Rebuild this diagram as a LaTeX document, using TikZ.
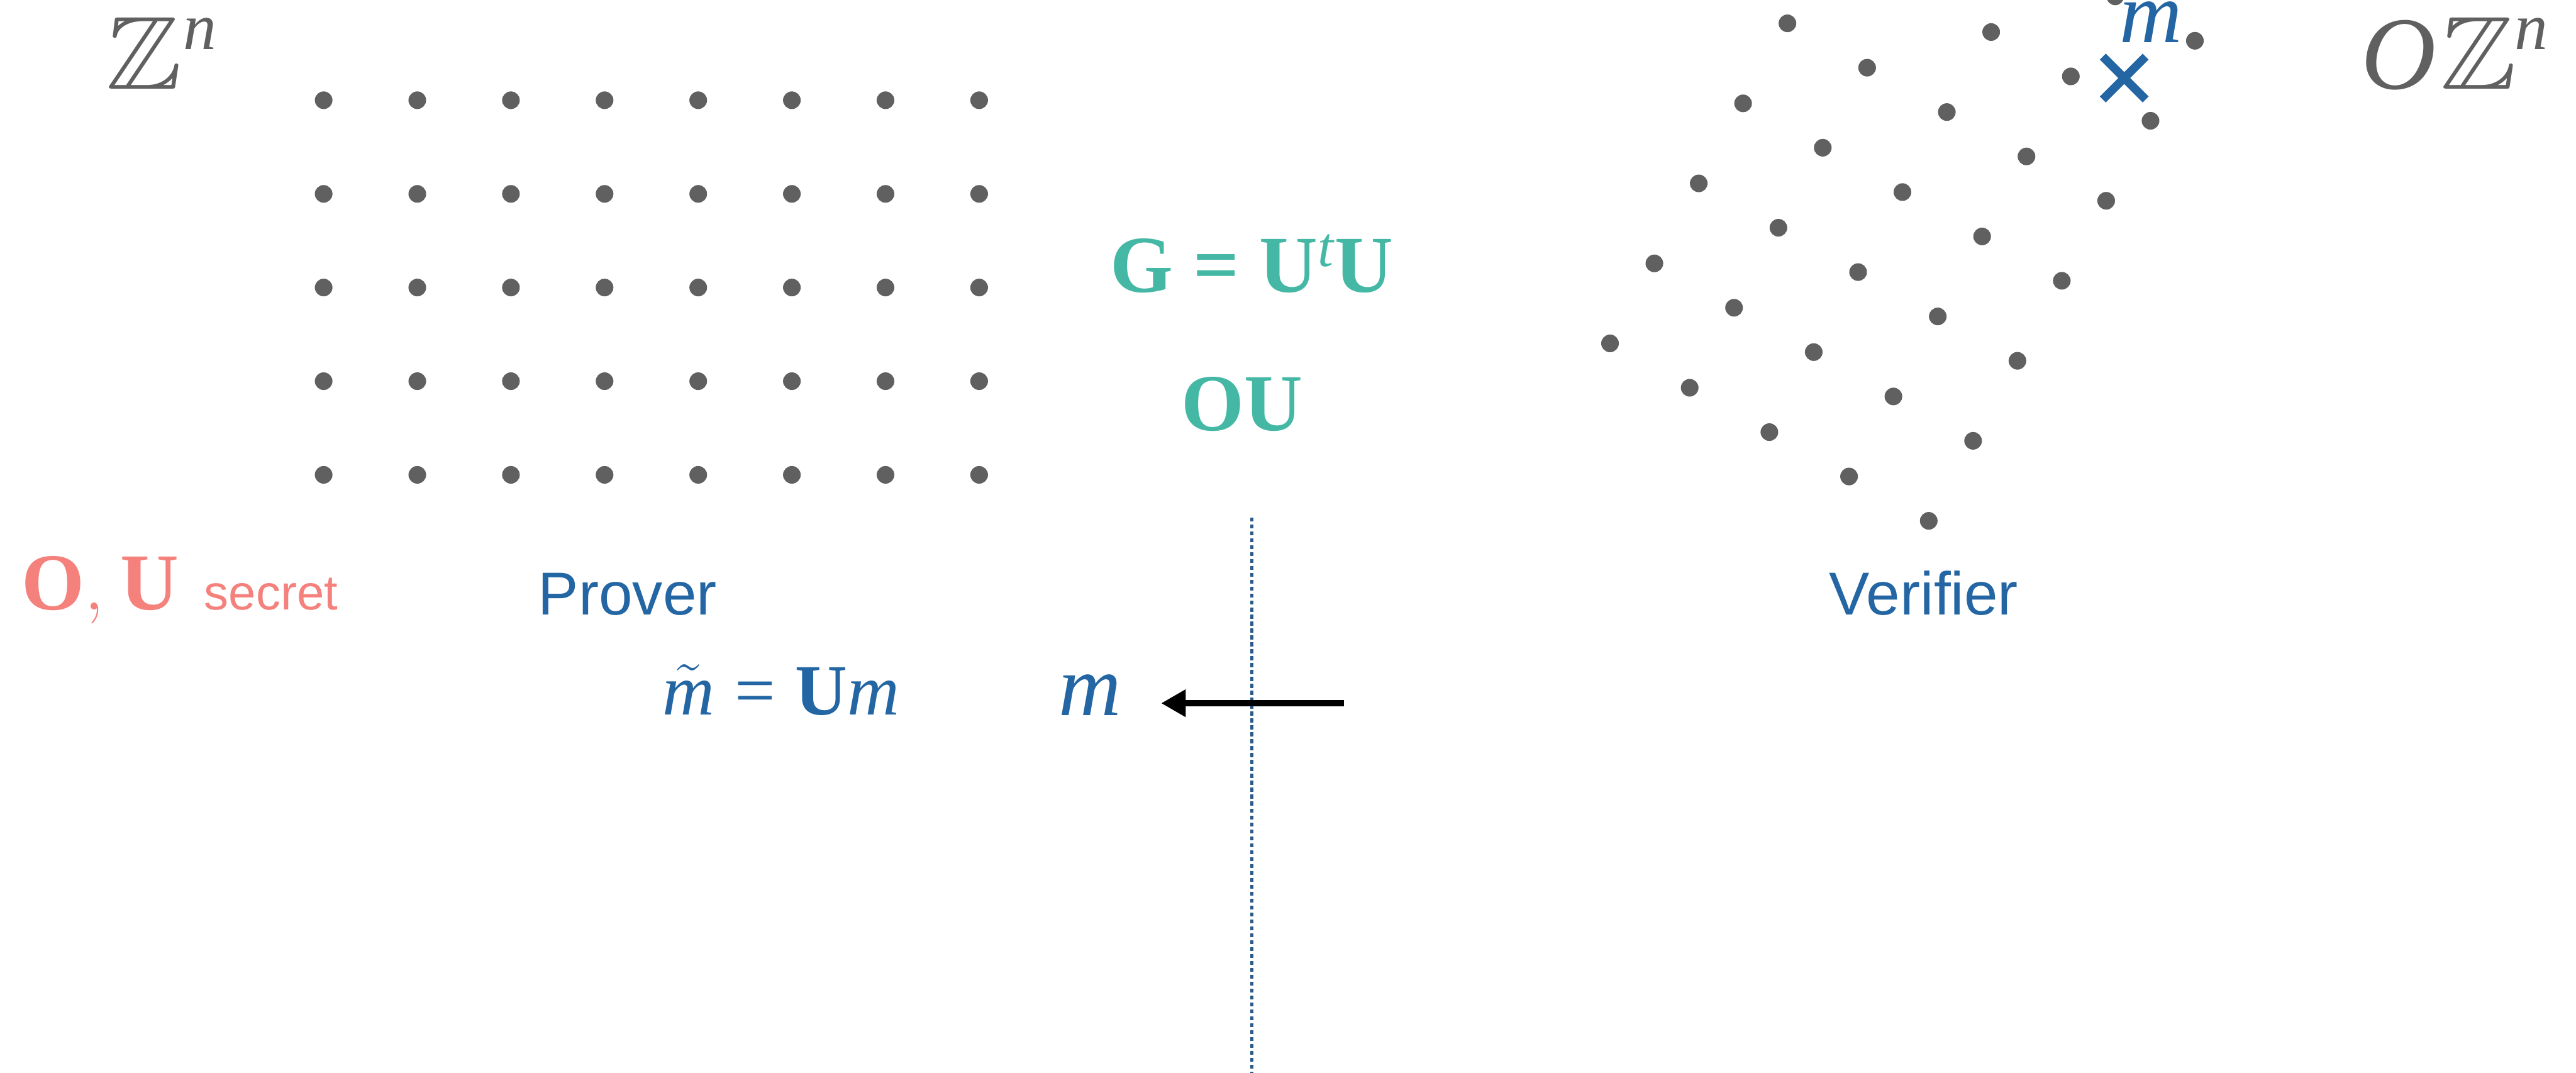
\documentclass[tikz,border=0pt]{standalone}
\usepackage{amsmath}
\usepackage{graphicx}
\usepackage{fontspec}
\setmainfont{Liberation Serif}
\setsansfont{Liberation Sans}
\usepackage{tikz}
\usetikzlibrary{arrows.meta, positioning, shapes.misc}
\DeclareFontFamily{U}{bbZ}{}
\DeclareFontShape{U}{bbZ}{m}{n}{<-> msbm10}{}
\newcommand{\bbZ}{\scalebox{1.1}[1]{\usefont{U}{bbZ}{m}{n}Z}}
\newcommand{\txteq}{\mathrel{\mbox{=}}}
\definecolor{dotgray}{HTML}{606060}
\definecolor{gramteal}{HTML}{45B8A5}
\definecolor{keyred}{HTML}{F4817C}
\definecolor{roleblue}{HTML}{2366A3}
\definecolor{dividerblue}{HTML}{2A5A8A}
\begin{document}
\begin{tikzpicture}[
    x=0.02cm, y=-0.02cm,
    latdot/.style={circle, fill=dotgray, inner sep=0pt, minimum size=0.215cm},
    setlbl/.style={text=dotgray, inner sep=0pt, font=\fontsize{36}{40}\selectfont},
    suplbl/.style={text=dotgray, inner sep=0pt, font=\fontsize{23}{27}\selectfont\itshape},
    gram/.style={text=gramteal, inner sep=0pt, font=\fontsize{28}{32}\selectfont\bfseries},
    keylbl/.style={text=keyred, inner sep=0pt, font=\fontsize{28}{32}\selectfont},
    keysub/.style={text=keyred, inner sep=0pt, font=\fontsize{17}{20}\selectfont\sffamily},
    role/.style={text=roleblue, inner sep=0pt, font=\fontsize{21}{25}\selectfont\sffamily},
    msgeq/.style={text=roleblue, inner sep=0pt, font=\fontsize{25}{29}\selectfont},
    msg/.style={text=roleblue, inner sep=0pt, font=\fontsize{30}{34}\selectfont\itshape},
    xmark/.style={cross out, draw=roleblue, line width=2.9pt, inner sep=0pt, minimum size=0.42cm},
    arr/.style={-{Triangle[length=8.5pt, width=9pt]}, line width=2.2pt},
    divider/.style={draw=dividerblue, line width=0.9pt, dash pattern=on 1.4pt off 1pt}
  ]
    \useasboundingbox (0,0) rectangle (1568,653);
    \clip (0,0) rectangle (1568,653);
    \foreach \c in {0,...,7}
      \foreach \r in {0,...,4}
        \node[latdot] (p\c\r) at (197+57*\c, 61+57*\r) {};
    \foreach \i in {0,...,4}
      \foreach \j in {0,...,7}
        \node[latdot] (q\i\j) at (1174-48.5*\i+27*\j, 317-27*\i-48.7*\j) {};
    \node[setlbl, anchor=base west] (zz) at (64,54) {\bbZ};
    \node[suplbl, anchor=base west, yshift=13.7pt] (zn) at (zz.base east) {n};
    \node[setlbl, anchor=base west] (oo) at (1437,54) {\itshape O};
    \node[setlbl, anchor=base west, xshift=1pt] (oz) at (oo.base east) {\bbZ};
    \node[suplbl, anchor=base west, xshift=-1pt, yshift=13.7pt] (on) at (oz.base east) {n};
    \node[xmark] (mx) at (1293,47.5) {};
    \node[msg, anchor=base west] (mlbl) at (1290,26) {m};
    \node[gram, anchor=base] (gmat) at (762,178) {$\mathbf{G}\txteq\mathbf{U}^{\mathit{t}}\mathbf{U}$};
    \node[gram, anchor=base] (ou) at (756,262) {OU};
    \node[keylbl, anchor=base west] (keys) at (13,371) {$\mathbf{O},\mskip1mu\mathbf{U}$};
    \node[keysub, anchor=base west] (sec) at (124,371) {secret};
    \node[role, anchor=base] (prover) at (382,374) {Prover};
    \node[role, anchor=base] (verifier) at (1171,374) {Verifier};
    \node[msgeq, anchor=base west] (mt) at (403,435) {$\tilde{\mathit{m}}\txteq\mathbf{U}\mathit{m}$};
    \node[msg, anchor=base west] (msg) at (644,435.5) {m};
    \coordinate (asrc) at (818,428);
    \coordinate (dtop) at (762,315);
    \coordinate (dbot) at (762,653);
    \draw[divider] (dtop) -- (dbot);
    \draw[arr, shorten >=0.48cm] (asrc) -- (msg.east |- asrc);
  \end{tikzpicture}
\end{document}
